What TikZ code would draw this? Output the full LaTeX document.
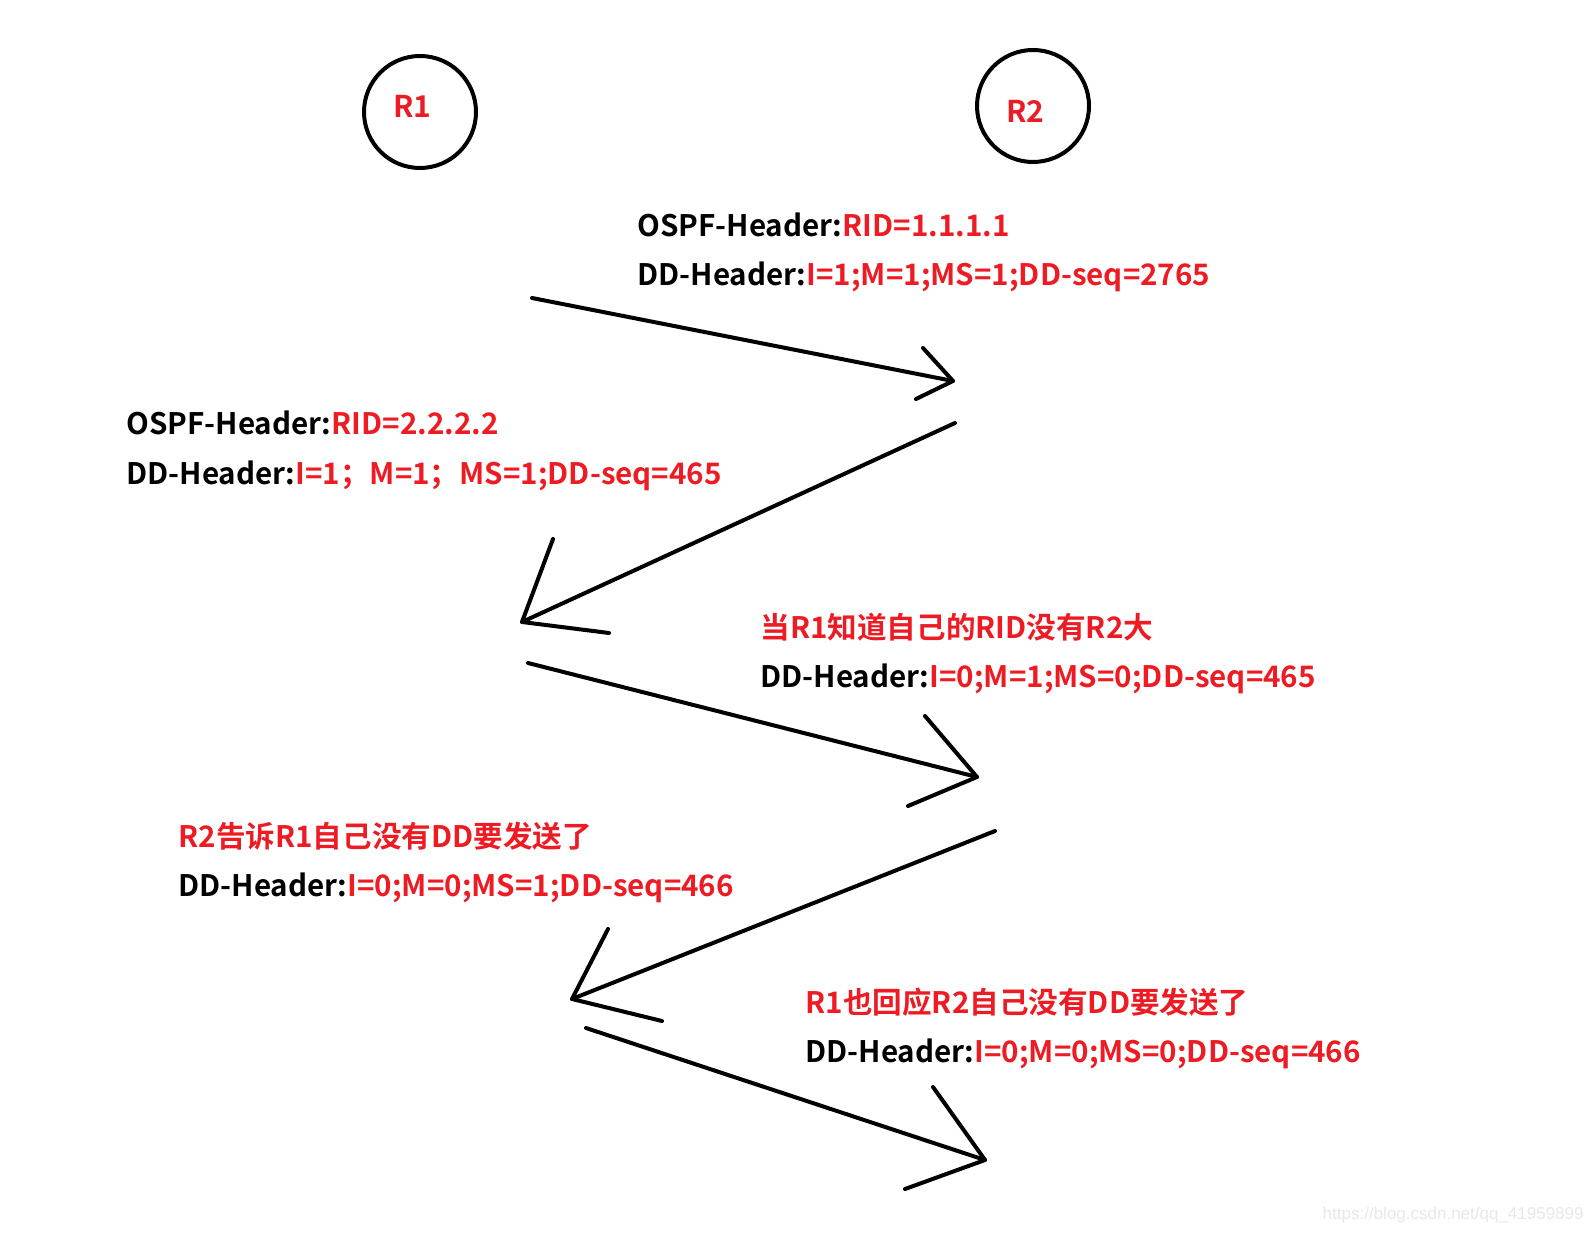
\documentclass[tikz,border=0pt]{standalone}
\usepackage{fontspec}
\setmainfont{Noto Sans CJK SC}[BoldFont={* Bold}]
\newfontfamily\wmfont{Liberation Sans}
\usetikzlibrary{positioning}
\definecolor{pktred}{RGB}{237,28,36}
\tikzset{
  router/.style={draw,circle,line width=2pt,minimum size=56pt,inner sep=0pt},
  rname/.style={anchor=base west,inner sep=0pt,font=\fontsize{15}{18}\selectfont\bfseries,text=pktred},
  hdr/.style={anchor=base west,inner sep=0pt,font=\fontsize{14.8}{18}\selectfont\bfseries},
  msg/.style={line width=2pt,line cap=round,line join=round}
}
\newcommand{\val}[1]{\textcolor{pktred}{#1}}

\begin{document}
\begin{tikzpicture}[x=0.5pt,y=-0.5pt]
  \useasboundingbox (0,0) rectangle (1593,1234);
  % routers
  \node[router] (r1) at (420,112) {};
  \node[router] (r2) at (1033,106) {};
  \node[rname] (r1name) at (393,118) {R1};
  \node[rname] (r2name) at (1006,123) {R2};

  % packet texts
  \node[hdr] (p1a) at (637,237) {OSPF-Header:\val{RID=1.1.1.1}};
  \node[hdr] (p1b) at (637,286) {DD-Header:\val{I=1;M=1;MS=1;DD-seq=2765}};
  \node[hdr] (p2a) at (126,435) {OSPF-Header:\val{RID=2.2.2.2}};
  \node[hdr] (p2b) at (126,485) {DD-Header:\val{I=1；M=1；MS=1;DD-seq=465}};
  \node[hdr] (p3a) at (760,638) {\val{当R1知道自己的RID没有R2大}};
  \node[hdr] (p3b) at (760,687) {DD-Header:\val{I=0;M=1;MS=0;DD-seq=465}};
  \node[hdr] (p4a) at (178,847) {\val{R2告诉R1自己没有DD要发送了}};
  \node[hdr] (p4b) at (178,896) {DD-Header:\val{I=0;M=0;MS=1;DD-seq=466}};
  \node[hdr] (p5a) at (805,1013) {\val{R1也回应R2自己没有DD要发送了}};
  \node[hdr] (p5b) at (805,1062) {DD-Header:\val{I=0;M=0;MS=0;DD-seq=466}};

  % arrow ends
  \coordinate (a1s) at (532,298);  \coordinate (a1e) at (953,381);
  \coordinate (a1l) at (923,348);  \coordinate (a1r) at (916,399);
  \coordinate (a2s) at (955,423);  \coordinate (a2e) at (522,622);
  \coordinate (a2l) at (553,539);  \coordinate (a2r) at (609,633);
  \coordinate (a3s) at (528,663);  \coordinate (a3e) at (977,777);
  \coordinate (a3l) at (925,716);  \coordinate (a3r) at (908,806);
  \coordinate (a4s) at (995,831);  \coordinate (a4e) at (572,999);
  \coordinate (a4l) at (608,929);  \coordinate (a4r) at (662,1021);
  \coordinate (a5s) at (586,1028); \coordinate (a5e) at (985,1160);
  \coordinate (a5l) at (933,1087); \coordinate (a5r) at (905,1189);

  % hand drawn arrows
  \draw[msg] (a1s) -- (a1e);
  \draw[msg] (a1l) -- (a1e) -- (a1r);
  \draw[msg] (a2s) -- (a2e);
  \draw[msg] (a2l) -- (a2e) -- (a2r);
  \draw[msg] (a3s) -- (a3e);
  \draw[msg] (a3l) -- (a3e) -- (a3r);
  \draw[msg] (a4s) -- (a4e);
  \draw[msg] (a4l) -- (a4e) -- (a4r);
  \draw[msg] (a5s) -- (a5e);
  \draw[msg] (a5l) -- (a5e) -- (a5r);

  \node[anchor=base east,inner sep=0pt,text=black!9,font=\wmfont\fontsize{8.5}{10}\selectfont] (wm) at (1584,1219) {https://blog.csdn.net/qq\_41959899};
\end{tikzpicture}
\end{document}
